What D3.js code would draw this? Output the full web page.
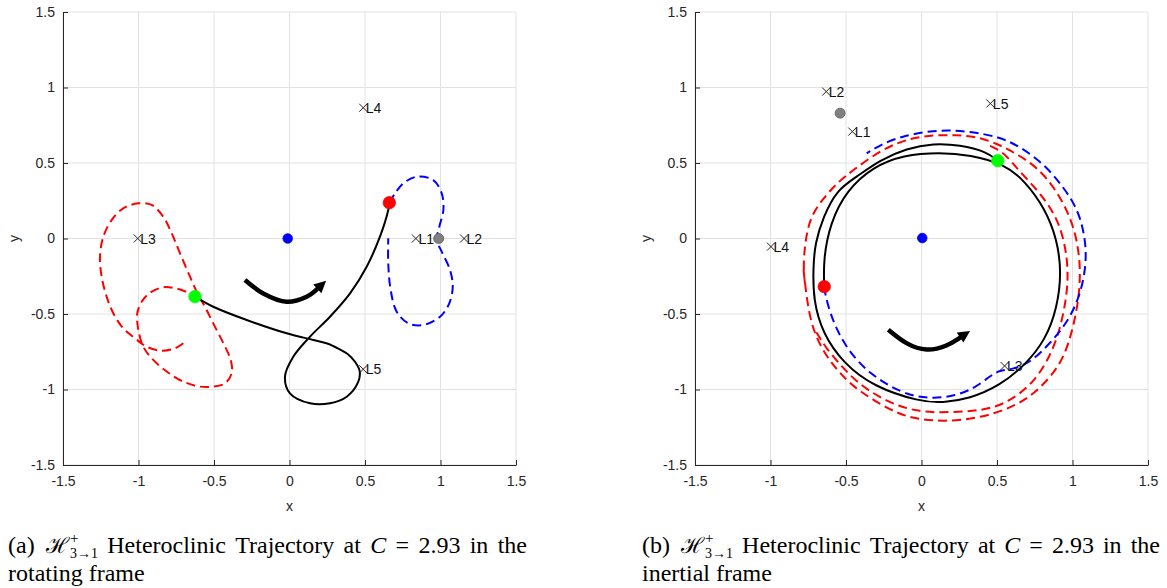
<!DOCTYPE html>
<html>
<head>
<meta charset="utf-8">
<script src="https://cdn.jsdelivr.net/npm/d3@7"></script>
<style>
  body { margin: 0; background: #fff; }
</style>
</head>
<body>
<div id="chart"></div>
<script>
// ---- data ----
const xTicks = [-1.5, -1, -0.5, 0, 0.5, 1, 1.5];
const yTicks = [-1.5, -1, -0.5, 0, 0.5, 1, 1.5];

// (a) rotating frame
const rotBlack = [
    [-0.626, -0.385], [-0.505, -0.452], [-0.283, -0.540], [-0.019, -0.628], [0.158, -0.672],
    [0.250, -0.695], [0.320, -0.727], [0.385, -0.765], [0.435, -0.818], [0.465, -0.880],
    [0.455, -0.950], [0.379, -1.048], [0.268, -1.091], [0.136, -1.091], [0.003, -1.025],
    [-0.030, -0.915], [0.025, -0.783], [0.136, -0.650], [0.268, -0.518], [0.401, -0.363],
    [0.511, -0.187], [0.599, 0.012], [0.654, 0.189], [0.661, 0.237]
];
const rotRedDash = [
    [-0.703, -0.694], [-0.758, -0.727], [-0.846, -0.743], [-0.946, -0.717], [-1.023, -0.661],
    [-1.101, -0.595], [-1.167, -0.495], [-1.211, -0.385], [-1.244, -0.253], [-1.255, -0.121],
    [-1.233, 0.012], [-1.178, 0.122], [-1.101, 0.200], [-1.001, 0.233], [-0.913, 0.222],
    [-0.836, 0.144], [-0.780, 0.034], [-0.725, -0.098], [-0.659, -0.253], [-0.604, -0.374],
    [-0.560, -0.452], [-0.505, -0.562], [-0.438, -0.694], [-0.389, -0.805], [-0.383, -0.893],
    [-0.427, -0.959], [-0.505, -0.981], [-0.593, -0.981], [-0.703, -0.948], [-0.813, -0.881],
    [-0.913, -0.793], [-0.968, -0.717], [-1.001, -0.606], [-1.008, -0.495], [-0.979, -0.419],
    [-0.924, -0.359], [-0.836, -0.323], [-0.748, -0.332], [-0.671, -0.359], [-0.626, -0.385]
];
const rotBlueDash = [
    [0.661, 0.237], [0.699, 0.299], [0.754, 0.366], [0.842, 0.409], [0.952, 0.387],
    [1.008, 0.299], [1.019, 0.189], [0.992, 0.078], [0.975, -0.010], [1.008, -0.087],
    [1.063, -0.209], [1.081, -0.319], [1.058, -0.429], [0.997, -0.518], [0.886, -0.573],
    [0.787, -0.562], [0.710, -0.485], [0.670, -0.341], [0.654, -0.164], [0.654, 0.001]
];
const rotArrow = [[-0.295, -0.275], [-0.174, -0.364], [-0.019, -0.419], [0.113, -0.386], [0.190, -0.328]];
const rotLagrange = [
    { name: 'L1', x: 0.837, y: 0 }, { name: 'L2', x: 1.156, y: 0 }, { name: 'L3', x: -1.005, y: 0 },
    { name: 'L4', x: 0.488, y: 0.866 }, { name: 'L5', x: 0.488, y: -0.866 }
];
const rotEarth = [-0.012, 0];
const rotMoon = [0.988, 0];
const rotStart = [-0.626, -0.385];
const rotEnd = [0.661, 0.237];

// (b) inertial frame
const inBlack = [
    [0.505, 0.515], [0.432, 0.575], [0.255, 0.619], [0.078, 0.630], [-0.098, 0.597],
    [-0.275, 0.520], [-0.429, 0.409], [-0.562, 0.321], [-0.650, 0.144], [-0.705, -0.032],
    [-0.717, -0.187], [-0.717, -0.407], [-0.655, -0.628], [-0.518, -0.826], [-0.319, -0.981],
    [-0.010, -1.081], [0.140, -1.088], [0.318, -1.061], [0.517, -0.976], [0.690, -0.835],
    [0.825, -0.665], [0.899, -0.454], [0.927, -0.230], [0.899, -0.008], [0.817, 0.200],
    [0.687, 0.378], [0.553, 0.491], [0.321, 0.553], [0.123, 0.571], [-0.121, 0.553],
    [-0.319, 0.476], [-0.495, 0.321], [-0.606, 0.101], [-0.650, -0.142], [-0.644, -0.319]
];
const inRedOuter = [
    [-0.772, -0.297], [-0.783, -0.187], [-0.772, -0.032], [-0.738, 0.144], [-0.650, 0.266],
    [-0.562, 0.366], [-0.452, 0.454], [-0.253, 0.597], [-0.076, 0.664], [0.078, 0.685],
    [0.233, 0.685], [0.366, 0.674], [0.498, 0.630], [0.630, 0.560], [0.763, 0.476],
    [0.895, 0.321], [0.995, 0.123], [1.038, -0.054], [1.054, -0.230], [1.038, -0.429],
    [0.995, -0.628], [0.930, -0.825], [0.785, -0.997], [0.630, -1.109], [0.387, -1.191],
    [0.144, -1.213], [-0.032, -1.195], [-0.164, -1.158], [-0.319, -1.070], [-0.452, -0.981],
    [-0.562, -0.871], [-0.672, -0.717], [-0.740, -0.540], [-0.772, -0.297], [-0.783, -0.187]
];
const inRedInner = [
    [0.454, 0.613], [0.540, 0.573], [0.608, 0.493], [0.685, 0.407], [0.785, 0.301],
    [0.895, 0.144], [0.950, -0.032], [0.972, -0.209], [0.962, -0.385], [0.917, -0.606],
    [0.851, -0.783], [0.740, -0.959], [0.586, -1.076], [0.454, -1.129], [0.299, -1.146],
    [0.078, -1.154], [-0.032, -1.140], [-0.142, -1.114], [-0.286, -1.048], [-0.419, -0.959],
    [-0.528, -0.849], [-0.639, -0.717], [-0.705, -0.606]
];
const inBlueDash = [
    [-0.644, -0.319], [-0.639, -0.363], [-0.606, -0.495], [-0.540, -0.650], [-0.452, -0.783],
    [-0.341, -0.893], [-0.209, -0.981], [-0.054, -1.048], [0.078, -1.058], [0.222, -1.043],
    [0.354, -0.990], [0.454, -0.911], [0.520, -0.871], [0.586, -0.871], [0.719, -0.826],
    [0.851, -0.694], [0.962, -0.562], [1.050, -0.385], [1.094, -0.164], [1.083, 0.012],
    [1.038, 0.189], [0.939, 0.343], [0.807, 0.498], [0.652, 0.608], [0.520, 0.672],
    [0.299, 0.714], [0.078, 0.719], [-0.142, 0.674], [-0.275, 0.619], [-0.363, 0.564]
];
const inArrow = [[-0.220, -0.604], [-0.098, -0.704], [0.034, -0.748], [0.167, -0.715], [0.262, -0.652]];
const inLagrange = [
    { name: 'L1', x: -0.458, y: 0.708 }, { name: 'L2', x: -0.631, y: 0.973 }, { name: 'L3', x: 0.550, y: -0.844 },
    { name: 'L4', x: -0.997, y: -0.054 }, { name: 'L5', x: 0.456, y: 0.894 }
];
const inEarth = [0.005, 0.003];
const inMoon = [-0.539, 0.830];
const inStart = [0.505, 0.515];
const inEnd = [-0.644, -0.319];

// ---- drawing ----
const width = 1167;
const height = 588;
const plotSize = 453;
const sansFont = 'Liberation Sans, Arial, Helvetica, sans-serif';
const serifFont = 'Liberation Serif, Times New Roman, serif';

const svg = d3.select('#chart')
    .append('svg')
    .attr('width', width)
    .attr('height', height);

// arrow head for the rotation direction arrows
svg.append('defs').append('marker')
    .attr('id', 'head')
    .attr('viewBox', '0 -5 10 10')
    .attr('refX', 1)
    .attr('refY', 0)
    .attr('markerUnits', 'userSpaceOnUse')
    .attr('markerWidth', 13)
    .attr('markerHeight', 12)
    .attr('orient', 'auto')
    .append('path')
    .attr('d', 'M0,-5L10,0L0,5Z')
    .attr('fill', '#000');

function drawPanel(p) {
    const x = d3.scaleLinear().domain([-1.5, 1.5]).range([p.left, p.left + plotSize]);
    const y = d3.scaleLinear().domain([-1.5, 1.5]).range([p.top + plotSize, p.top]);
    const g = svg.append('g');

    // grid
    g.append('g').selectAll('line').data(xTicks).join('line')
        .attr('x1', d => x(d)).attr('x2', d => x(d))
        .attr('y1', y(-1.5)).attr('y2', y(1.5))
        .attr('stroke', '#e2e2e2');
    g.append('g').selectAll('line').data(yTicks).join('line')
        .attr('x1', x(-1.5)).attr('x2', x(1.5))
        .attr('y1', d => y(d)).attr('y2', d => y(d))
        .attr('stroke', '#e2e2e2');

    // axes (ticks point inward like MATLAB)
    const gx = g.append('g')
        .attr('transform', `translate(0, ${y(-1.5)})`)
        .call(d3.axisBottom(x).tickValues(xTicks).tickFormat(d => String(d))
            .tickSizeInner(-5).tickSizeOuter(0).tickPadding(11));
    const gy = g.append('g')
        .attr('transform', `translate(${x(-1.5)}, 0)`)
        .call(d3.axisLeft(y).tickValues(yTicks).tickFormat(d => String(d))
            .tickSizeInner(-5).tickSizeOuter(0).tickPadding(8));
    [gx, gy].forEach(a => {
        a.attr('font-family', sansFont).attr('font-size', 14);
        a.selectAll('path, line').attr('stroke', '#262626');
        a.selectAll('text').attr('fill', '#262626');
    });

    g.append('text')
        .attr('x', x(0)).attr('y', y(-1.5) + 46)
        .attr('text-anchor', 'middle')
        .attr('font-family', sansFont).attr('font-size', 14).attr('fill', '#262626')
        .text('x');
    g.append('text')
        .attr('transform', `translate(${p.left - 44}, ${y(0)}) rotate(-90)`)
        .attr('text-anchor', 'middle')
        .attr('font-family', sansFont).attr('font-size', 14).attr('fill', '#262626')
        .text('y');

    const line = d3.line()
        .x(d => x(d[0]))
        .y(d => y(d[1]))
        .curve(p.curve);

    // trajectories
    p.dashed.forEach(s => {
        g.append('path')
            .attr('d', line(s.values))
            .attr('fill', 'none')
            .attr('stroke', s.color)
            .attr('stroke-width', 2)
            .attr('stroke-dasharray', '9,5');
    });
    g.append('path')
        .attr('d', line(p.black))
        .attr('fill', 'none')
        .attr('stroke', '#000')
        .attr('stroke-width', 2);

    // direction arrow
    g.append('path')
        .attr('d', line(p.arrow))
        .attr('fill', 'none')
        .attr('stroke', '#000')
        .attr('stroke-width', 4.5)
        .attr('marker-end', 'url(#head)');

    // bodies and patch points
    const dots = [
        { pos: p.earth, r: 4.8, fill: '#0000ff', stroke: '#0000ff' },
        { pos: p.moon, r: 5, fill: '#808080', stroke: '#5a5a5a' },
        { pos: p.start, r: 6.2, fill: '#00ff00', stroke: '#00ff00' },
        { pos: p.end, r: 6.2, fill: '#ff0000', stroke: '#ff0000' }
    ];
    g.append('g').selectAll('circle').data(dots).join('circle')
        .attr('cx', d => x(d.pos[0]))
        .attr('cy', d => y(d.pos[1]))
        .attr('r', d => d.r)
        .attr('fill', d => d.fill)
        .attr('stroke', d => d.stroke)
        .attr('stroke-width', 0.8);

    // Lagrange points
    const lp = g.append('g').selectAll('g').data(p.lagrange).join('g')
        .attr('transform', d => `translate(${x(d.x)}, ${y(d.y)})`);
    lp.append('path')
        .attr('d', 'M-4,-4L4,4M-4,4L4,-4')
        .attr('stroke', '#222')
        .attr('stroke-width', 1);
    lp.append('text')
        .attr('x', 2.5).attr('y', 5)
        .attr('font-family', sansFont).attr('font-size', 14).attr('fill', '#111')
        .text(d => d.name);
}

drawPanel({
    left: 63, top: 12,
    curve: d3.curveCatmullRom.alpha(0.5),
    black: rotBlack,
    dashed: [{ values: rotRedDash, color: '#ff0000' }, { values: rotBlueDash, color: '#0000ff' }],
    arrow: rotArrow,
    lagrange: rotLagrange,
    earth: rotEarth, moon: rotMoon, start: rotStart, end: rotEnd
});

drawPanel({
    left: 695, top: 12,
    curve: d3.curveBasis,
    black: inBlack,
    dashed: [
        { values: inRedOuter, color: '#ff0000' },
        { values: inRedInner, color: '#ff0000' },
        { values: inBlueDash, color: '#0000ff' }
    ],
    arrow: inArrow,
    lagrange: inLagrange,
    earth: inEarth, moon: inMoon, start: inStart, end: inEnd
});

// ---- captions (justified first line, like the LaTeX subcaption) ----
function drawCaption(x0, lineWidth, tag, secondLine) {
    const fs = 24;
    const base1 = 553;
    const base2 = 581;
    const g = svg.append('g').attr('font-family', serifFont).attr('fill', '#000');

    const words = [];
    function plainWord(txt, italic) {
        const wg = g.append('g');
        const t = wg.append('text').attr('font-size', fs).text(txt);
        if (italic) t.attr('font-style', 'italic');
        words.push({ g: wg, w: t.node().getComputedTextLength() });
    }
    function hWord() {
        const wg = g.append('g');
        const h = wg.append('text').attr('x', 2).attr('font-size', fs - 2)
            .attr('font-family', 'DejaVu Serif, serif').text('\u210B');
        const wh = h.node().getComputedTextLength() + 2;
        const sup = wg.append('text').attr('x', wh + 1).attr('y', -10).attr('font-size', 15).text('+');
        const sub = wg.append('text').attr('x', wh + 1).attr('y', 5).attr('font-size', 14).text('3\u21921');
        const ws = Math.max(sup.node().getComputedTextLength(), sub.node().getComputedTextLength());
        words.push({ g: wg, w: wh + 1 + ws });
    }

    plainWord(`(${tag})`);
    hWord();
    ['Heteroclinic', 'Trajectory', 'at'].forEach(w => plainWord(w));
    plainWord('C', true);
    ['=', '2.93', 'in', 'the'].forEach(w => plainWord(w));

    const total = d3.sum(words, d => d.w);
    const gap = (lineWidth - total) / (words.length - 1);
    let cx = x0;
    words.forEach(d => {
        d.g.attr('transform', `translate(${cx}, ${base1})`);
        cx += d.w + gap;
    });

    g.append('text').attr('x', x0).attr('y', base2).attr('font-size', fs).text(secondLine);
}

drawCaption(8, 519, 'a', 'rotating frame');
drawCaption(642, 518, 'b', 'inertial frame');
</script>
</body>
</html>
